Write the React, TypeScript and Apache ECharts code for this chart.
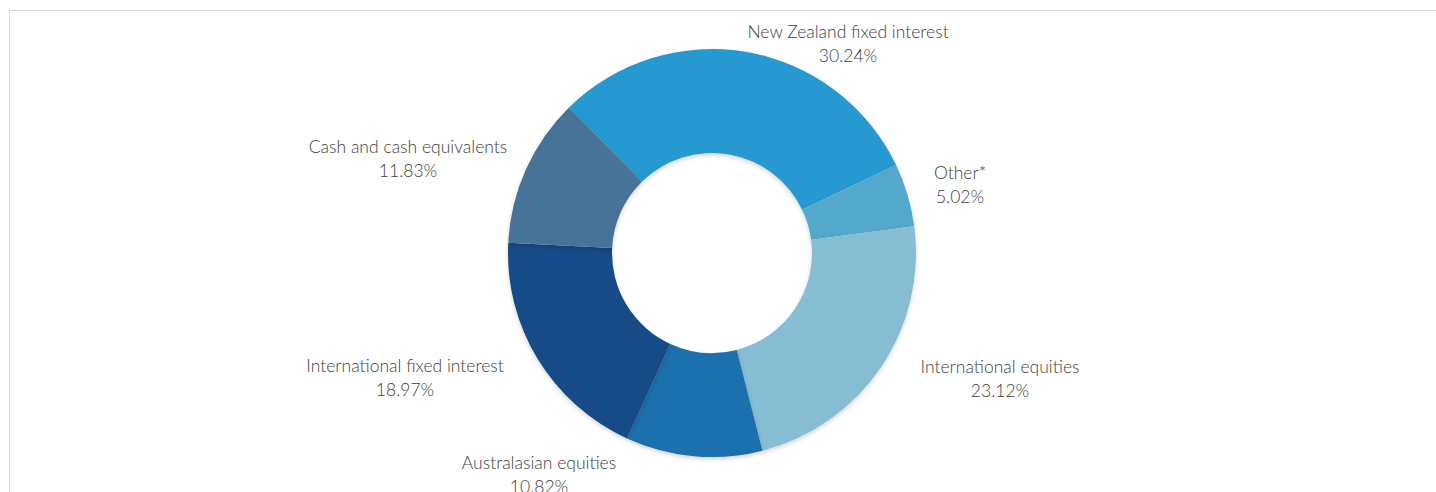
import React, { useEffect, useRef } from "react";
import * as echarts from "echarts";

const categories = [
  "New Zealand fixed interest",
  "Other*",
  "International equities",
  "Australasian equities",
  "International fixed interest",
  "Cash and cash equivalents",
];
const values = [30.24, 5.02, 23.12, 10.82, 18.97, 11.83];
const colors = ["#2599d0", "#53a8cb", "#86bdd3", "#1b6fad", "#124b88", "#467398"];
// label block centres (layout only)
const labelPos: [number, number][] = [
  [848, 43],
  [960, 184],
  [1000, 378],
  [539, 474],
  [405, 377],
  [408, 158],
];

export default function App() {
  const ref = useRef<HTMLDivElement>(null);
  useEffect(() => {
    if (!ref.current) return;
    const chart = echarts.init(ref.current, undefined, { renderer: "svg" });
    chart.setOption({
      animation: false,
      backgroundColor: "#ffffff",
      graphic: [
        { type: "line", shape: { x1: 9, y1: 10.5, x2: 1436, y2: 10.5 }, style: { stroke: "#d9d9d9", lineWidth: 1 } },
        { type: "line", shape: { x1: 9.5, y1: 10, x2: 9.5, y2: 492 }, style: { stroke: "#d9d9d9", lineWidth: 1 } },
      ],
      series: [
        {
          type: "pie",
          center: [712, 253],
          radius: [100, 204],
          startAngle: 134.5,
          clockwise: true,
          avoidLabelOverlap: false,
          itemStyle: {
            shadowBlur: 4,
            shadowOffsetY: 2,
            shadowColor: "rgba(0,0,0,0.18)",
          },
          label: {
            show: true,
            position: "outside",
            fontFamily: "Lato",
            fontWeight: 300,
            fontSize: 17.5,
            color: "#404040",
            lineHeight: 24,
            align: "center",
            formatter: (p: any) => `${p.name}\n${Number(p.value).toFixed(2)}%`,
          },
          labelLine: { show: false },
          labelLayout: (p: any) => ({
            x: labelPos[p.dataIndex][0],
            y: labelPos[p.dataIndex][1],
            align: "center",
            verticalAlign: "middle",
          }),
          data: categories.map((name, i) => ({
            name,
            value: values[i],
            itemStyle: { color: colors[i] },
          })),
        },
      ],
    });
    return () => chart.dispose();
  }, []);
  return (
    <div
      ref={ref}
      style={{ position: "absolute", left: 0, top: 0, width: 1436, height: 492 }}
    />
  );
}
